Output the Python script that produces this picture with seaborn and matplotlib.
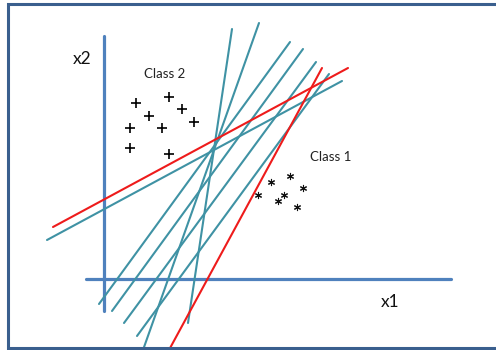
import matplotlib
matplotlib.use("Agg")
import matplotlib.pyplot as plt
import seaborn as sns
import pandas as pd

# Feature space coordinates: origin at the crossing of the x1 / x2 axes.
class2_x = [32, 65, 45, 78, 26, 58, 90, 26, 65]
class2_y = [176, 182, 163, 170, 151, 151, 157, 131, 125]

class1_x = [186, 167, 199, 154, 180, 174, 193]
class1_y = [103, 97, 91, 84, 84, 78, 72]

# Candidate separating lines (start / end points)
cand_x0 = [128, 155, 186, 199, 212, 225, -57]
cand_y0 = [250, 256, 237, 230, 217, 205, 39]
cand_x1 = [84, 39, -5, 8, 20, 33, 238]
cand_y1 = [-44, -71, -25, -32, -44, -57, 198]

# Highlighted boundaries
best_x0 = [-51, 218]
best_y0 = [52, 211]
best_x1 = [244, 65]
best_y1 = [211, -71]

# Axis arrows of the feature space
axis_x0 = [0, -18]
axis_y0 = [243, 0]
axis_x1 = [0, 347]
axis_y1 = [-32, 0]

TEAL = "#3F92A4"
RED = "#EE1B1B"
BLUE = "#4F81BD"
FRAME = "#3A5F8E"

sns.set_theme(style="white")
plt.rcParams["font.family"] = ["Lato", "DejaVu Sans"]

fig = plt.figure(figsize=(4.96, 3.5), dpi=100)
ax = fig.add_axes([0, 0, 1, 1])


def segments(x0, y0, x1, y1, kind):
    rows = []
    for i, (a, b, c, d) in enumerate(zip(x0, y0, x1, y1)):
        rows.append({"seg": f"{kind}{i}", "kind": kind, "x": a, "y": b})
        rows.append({"seg": f"{kind}{i}", "kind": kind, "x": c, "y": d})
    return rows


axes_df = pd.DataFrame(segments(axis_x0, axis_y0, axis_x1, axis_y1, "axis"))
cand_df = pd.DataFrame(segments(cand_x0, cand_y0, cand_x1, cand_y1, "cand"))
best_df = pd.DataFrame(segments(best_x0, best_y0, best_x1, best_y1, "best"))

sns.lineplot(data=axes_df, x="x", y="y", units="seg", estimator=None, sort=False,
             color=BLUE, linewidth=2.3, ax=ax, legend=False)
sns.lineplot(data=cand_df, x="x", y="y", units="seg", estimator=None, sort=False,
             color=TEAL, linewidth=1.5, ax=ax, legend=False)
sns.lineplot(data=best_df, x="x", y="y", units="seg", estimator=None, sort=False,
             color=RED, linewidth=1.5, ax=ax, legend=False)

c2 = pd.DataFrame({"x": class2_x, "y": class2_y})
c1 = pd.DataFrame({"x": class1_x, "y": class1_y})
sns.scatterplot(data=c2, x="x", y="y", marker="+", s=55, color="black",
                linewidth=1.2, ax=ax, legend=False)
sns.scatterplot(data=c1, x="x", y="y", marker=(6, 2, 0), s=20, color="#111111",
                linewidth=0.8, ax=ax, legend=False)

ax.text(-22, 220, "x2", fontsize=12.5, ha="center", va="center", color="#111111")
ax.text(286, -23, "x1", fontsize=12.5, ha="center", va="center", color="#111111")
ax.text(61, 205, "Class 2", fontsize=9.5, ha="center", va="center", color="#222222")
ax.text(227, 122, "Class 1", fontsize=9.5, ha="center", va="center", color="#222222")

# Outer frame (open on the right side)
ax.plot([420, -96, -96, 420], [275, 275, -69, -69], color=FRAME, linewidth=2.2,
        solid_joinstyle="miter", clip_on=True)

ax.set_xlim(-104, 392)
ax.set_ylim(-71, 279)
ax.set_axis_off()
ax.set_xlabel("")
ax.set_ylabel("")

fig.savefig("out.png", dpi=100)
